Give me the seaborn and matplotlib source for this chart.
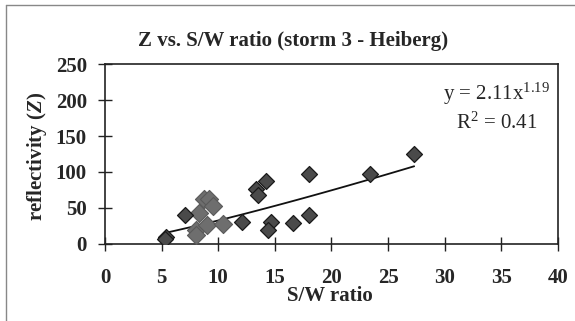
import numpy as np
import pandas as pd
import matplotlib
matplotlib.use("Agg")
import matplotlib.pyplot as plt
import seaborn as sns

# S/W ratio vs. reflectivity Z, storm 3 (Heiberg)
sw_ratio = [5.4, 5.3, 7.1, 12.1, 13.3, 13.5, 14.2, 14.7, 14.4, 16.6, 18.0, 18.0, 23.4, 27.3]
reflectivity = [10, 7, 40, 30, 77, 68, 87, 30, 20, 29, 97, 40, 97, 125]
# points in the lighter cluster between 8 and 11
sw_ratio_light = [8.0, 8.0, 8.3, 8.7, 9.2, 9.5, 9.0, 10.4]
reflectivity_light = [20, 12, 43, 62, 63, 53, 26, 28]

# power-law trend line y = a * x^b
trend_a = 2.11
trend_b = 1.19
x_ticks = [0, 5, 10, 15, 20, 25, 30, 35, 40]
y_ticks = [0, 50, 100, 150, 200, 250]

sns.set_theme(style="white")
plt.rcParams["font.family"] = ["Liberation Serif", "DejaVu Serif"]
plt.rcParams["mathtext.fontset"] = "custom"
plt.rcParams["mathtext.rm"] = "Liberation Serif"
plt.rcParams["mathtext.it"] = "Liberation Serif:italic"
plt.rcParams["mathtext.bf"] = "Liberation Serif:bold"
plt.rcParams["mathtext.bfit"] = "Liberation Serif:bold:italic"

FS = 15

fig = plt.figure(figsize=(5.75, 3.21), dpi=100)
ax = fig.add_axes([0.1826, 0.2399, 0.9704 - 0.1826, 0.8006 - 0.2399])

dark = pd.DataFrame({"x": sw_ratio, "y": reflectivity})
light = pd.DataFrame({"x": sw_ratio_light, "y": reflectivity_light})

all_x = np.array(sw_ratio + sw_ratio_light)
xs = np.linspace(all_x.min(), all_x.max(), 100)
trend = pd.DataFrame({"x": xs, "y": trend_a * xs ** trend_b})
sns.lineplot(data=trend, x="x", y="y", ax=ax, color="#111111", lw=1.3, zorder=2)

sns.scatterplot(data=light, x="x", y="y", ax=ax, marker="D", s=85,
                color="#6e6e6e", edgecolor="#5a5a5a", linewidth=0.8, zorder=3)
sns.scatterplot(data=dark, x="x", y="y", ax=ax, marker="D", s=66,
                color="#4a4a4a", edgecolor="#1a1a1a", linewidth=0.9, zorder=4)

ax.set_xlim(0, 40)
ax.set_ylim(0, 250)
ax.set_xticks(x_ticks)
ax.set_yticks(y_ticks)
ax.set_xticklabels([str(t) for t in x_ticks], fontsize=FS, fontweight="bold")
ax.set_yticklabels([str(t) for t in y_ticks], fontsize=FS, fontweight="bold")
ax.tick_params(axis="both", direction="inout", length=10, width=1.0,
               color="#222222", bottom=True, left=True)
ax.tick_params(axis="y", pad=8)
ax.tick_params(axis="x", pad=12)
for side, sp in ax.spines.items():
    sp.set_visible(True)
    sp.set_color("#222222")
    sp.set_linewidth(1.2)

ax.set_xlabel("S/W ratio", fontsize=FS, fontweight="bold", va="center")
ax.xaxis.set_label_coords(0.497, -0.29)
ax.set_ylabel(r"reflectivity ($\mathbfit{Z}$)", fontsize=FS, fontweight="bold", va="center")
ax.yaxis.set_label_coords(-0.150, 0.489)
fig.text(0.51, 0.872, "Z vs. S/W ratio (storm 3 - Heiberg)", ha="center", va="center",
         fontsize=FS, fontweight="bold")

ax.text(0.863, 0.833, r"y = 2.11x$^{1.19}$", transform=ax.transAxes, ha="center",
        va="center", fontsize=FS)
ax.text(0.865, 0.673, r"R$^{2}$ = 0.41", transform=ax.transAxes, ha="center",
        va="center", fontsize=FS)

# outer chart frame (left and top edges)
fig.add_artist(plt.Line2D([0.011, 0.011], [0.0, 0.985], color="#888888", lw=1.0))
fig.add_artist(plt.Line2D([0.011, 1.0], [0.985, 0.985], color="#888888", lw=1.0))

fig.savefig("out.png", dpi=100)
